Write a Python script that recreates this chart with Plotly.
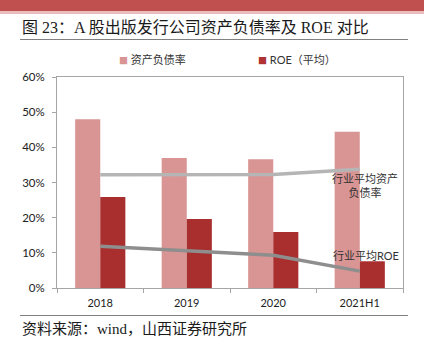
import plotly.graph_objects as go

categories = ["2018", "2019", "2020", "2021H1"]
debt_ratio = [48.0, 37.0, 36.6, 44.4]
roe_avg = [25.9, 19.6, 15.9, 7.6]
ind_debt_ratio = [32.2, 32.2, 32.3, 33.8]
ind_roe = [11.9, 10.6, 9.3, 4.8]
y_ticks = [0, 10, 20, 30, 40, 50, 60]
y_tick_labels = ["0%", "10%", "20%", "30%", "40%", "50%", "60%"]

name_debt = "资产负债率"
name_roe = "ROE（平均）"
name_ind_debt = "行业平均资产<br>负债率"
name_ind_roe = "行业平均ROE"

W, H = 424, 354
L, R, T, B = 57, 21, 77, 66
PW, PH = W - L - R, H - T - B

def px(x):
    return (x - L) / PW

def py(y):
    return (H - B - y) / PH

SERIF = "Liberation Serif, Noto Sans CJK SC"
SANS = "Lato, Noto Sans CJK SC"

fig = go.Figure()
fig.add_trace(go.Bar(x=categories, y=debt_ratio, name=name_debt,
                     marker=dict(color="#d99594", line=dict(width=0)), showlegend=False))
fig.add_trace(go.Bar(x=categories, y=roe_avg, name=name_roe,
                     marker=dict(color="#a92e2e", line=dict(width=0)), showlegend=False))
fig.add_trace(go.Scatter(x=categories, y=ind_debt_ratio, mode="lines",
                         line=dict(color="#b5b5b5", width=3.5), showlegend=False))
fig.add_trace(go.Scatter(x=categories, y=ind_roe, mode="lines",
                         line=dict(color="#8e8e8e", width=3.5), showlegend=False))

shapes = [
    dict(type="rect", xref="paper", yref="paper", x0=px(0), x1=px(W), y0=py(11), y1=py(0),
         fillcolor="#c0504f", line=dict(width=0), layer="below"),
    dict(type="rect", xref="paper", yref="paper", x0=px(0), x1=px(W), y0=py(14), y1=py(11),
         fillcolor="#eabcbc", line=dict(width=0), layer="below"),
    dict(type="line", xref="paper", yref="paper", x0=px(20), x1=px(408), y0=py(39.5), y1=py(39.5),
         line=dict(color="#808080", width=1)),
    dict(type="line", xref="paper", yref="paper", x0=px(20), x1=px(408), y0=py(315.5), y1=py(315.5),
         line=dict(color="#808080", width=1)),
]

annotations = [
    dict(text="图 23：A 股出版发行公司资产负债率及 ROE 对比", xref="paper", yref="paper",
         x=px(20), y=py(27), xanchor="left", yanchor="middle", showarrow=False,
         font=dict(family=SERIF, size=16, color="#1a1a1a")),
    dict(text="资料来源：wind，山西证券研究所", xref="paper", yref="paper",
         x=px(20), y=py(329), xanchor="left", yanchor="middle", showarrow=False,
         font=dict(family=SERIF, size=15, color="#1a1a1a")),
    # legend
    dict(text="<span style='color:#d99594;font-size:9px'>■</span> " + name_debt, xref="paper", yref="paper",
         x=px(117), y=py(60), xanchor="left", yanchor="middle", showarrow=False,
         font=dict(family=SANS, size=11, color="#333333")),
    dict(text="<span style='color:#b03232;font-size:9px'>■</span> " + name_roe, xref="paper", yref="paper",
         x=px(256), y=py(60), xanchor="left", yanchor="middle", showarrow=False,
         font=dict(family=SANS, size=11, color="#333333")),
    # line labels
    dict(text=name_ind_debt, xref="paper", yref="paper",
         x=px(365), y=py(185), xanchor="center", yanchor="middle", showarrow=False,
         font=dict(family=SERIF, size=11, color="#333333")),
    dict(text=name_ind_roe, xref="paper", yref="paper",
         x=px(366), y=py(255), xanchor="center", yanchor="middle", showarrow=False,
         font=dict(family=SANS, size=11, color="#333333")),
]

fig.update_layout(
    width=W, height=H,
    margin=dict(l=L, r=R, t=T, b=B, pad=0),
    paper_bgcolor="white", plot_bgcolor="white",
    barmode="group", bargap=0.42, bargroupgap=0,
    shapes=shapes, annotations=annotations,
    showlegend=False,
)
fig.update_xaxes(
    type="category", showline=True, linecolor="#a6a6a6", linewidth=1, mirror=True,
    ticks="outside", tickson="boundaries", ticklen=4, tickcolor="#a6a6a6",
    showgrid=False, ticklabelstandoff=5,
    tickfont=dict(family=SANS, size=11, color="#222222"),
)
fig.update_yaxes(
    range=[0, 60], tickvals=y_ticks, ticktext=y_tick_labels,
    showline=True, linecolor="#a6a6a6", linewidth=1, mirror=True,
    ticks="outside", ticklen=4, tickcolor="#a6a6a6", showgrid=False, zeroline=False,
    ticklabelstandoff=5,
    tickfont=dict(family=SANS, size=11.5, color="#222222"),
)

fig.write_html("out.html")
